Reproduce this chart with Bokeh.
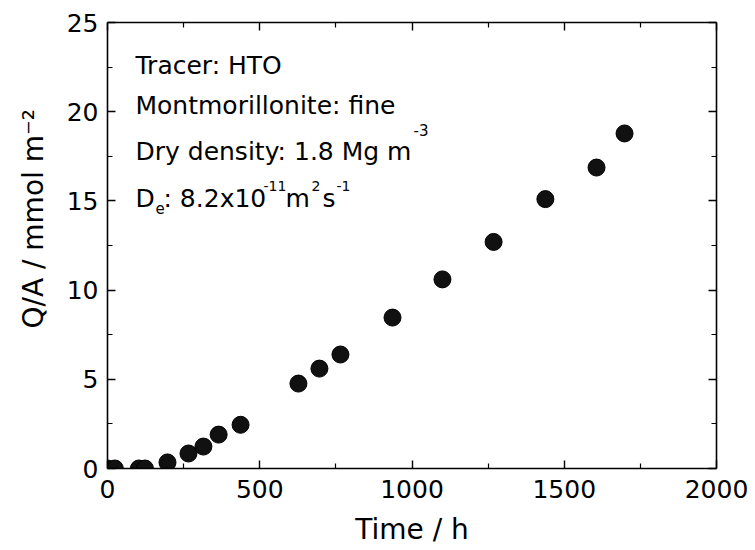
import math
from bokeh.plotting import figure
from bokeh.models import LinearAxis, FixedTicker, Label, Range1d, ColumnDataSource, CustomJSTickFormatter
from bokeh.embed import file_html
from bokeh.resources import INLINE

# ---- data ----
time_h = [0, 24, 103, 123, 197, 266, 315, 365, 437, 627, 696, 765, 936, 1100, 1268, 1438, 1606, 1698]
qa_mmol = [0.0, 0.0, 0.0, 0.0, 0.34, 0.84, 1.23, 1.9, 2.45, 4.76, 5.6, 6.39, 8.46, 10.6, 12.7, 15.1, 16.87, 18.78]

x_ticks = [0, 500, 1000, 1500, 2000]
x_minor = [250, 750, 1250, 1750]
y_ticks = [0, 5, 10, 15, 20, 25]
y_minor = [2.5, 7.5, 12.5, 17.5, 22.5]

FONT = "DejaVu Sans"
NB = "\u00a0"

p = figure(width=755, height=550, output_backend="svg", toolbar_location=None,
           x_range=Range1d(0, 2000), y_range=Range1d(0, 25),
           min_border_left=107, min_border_right=39, min_border_top=22, min_border_bottom=82)
p.outline_line_color = None
p.xgrid.visible = False
p.ygrid.visible = False
p.background_fill_color = "white"
p.border_fill_color = "white"

src = ColumnDataSource(dict(t=time_h, q=qa_mmol))
p.scatter("t", "q", source=src, size=17, marker="circle",
          fill_color="#111111", line_color="#000000", line_width=1)

def style_axis(ax, ticks, minor, show_labels):
    ax.ticker = FixedTicker(ticks=ticks, minor_ticks=minor)
    ax.axis_line_width = 1.6
    ax.axis_line_color = "black"
    ax.major_tick_in = 8
    ax.major_tick_out = 0
    ax.minor_tick_in = 5
    ax.minor_tick_out = 0
    ax.major_tick_line_width = 1.4
    ax.minor_tick_line_width = 1.2
    ax.major_tick_line_color = "black"
    ax.minor_tick_line_color = "black"
    if show_labels:
        ax.major_label_text_font = FONT
        ax.major_label_text_font_size = "25px"
        ax.major_label_text_color = "black"
    else:
        ax.formatter = CustomJSTickFormatter(code="return '';")
        ax.major_label_standoff = 0

xa = p.xaxis[0]
style_axis(xa, x_ticks, x_minor, True)
xa.major_label_standoff = 11
xa.axis_label = "Time / h"
xa.axis_label_text_font = FONT
xa.axis_label_text_font_size = "28px"
xa.axis_label_text_font_style = "normal"
xa.axis_label_text_color = "black"
xa.axis_label_standoff = 12

ya = p.yaxis[0]
style_axis(ya, y_ticks, y_minor, True)
ya.major_label_standoff = 9
ya.axis_label = NB * 6 + "Q/A / mmol m\u207b\u00b2"
ya.axis_label_text_font = FONT
ya.axis_label_text_font_size = "28px"
ya.axis_label_text_font_style = "normal"
ya.axis_label_text_color = "black"
ya.axis_label_standoff = 14

top = LinearAxis()
style_axis(top, x_ticks, x_minor, False)
p.add_layout(top, "above")
right = LinearAxis()
style_axis(right, y_ticks, y_minor, False)
p.add_layout(right, "right")

# ---- text helpers (screen units: from frame left / frame bottom) ----
FL, FB = 107, 468
DY = 7  # rendering offset correction

def txt(text, cx, cy, size):
    p.add_layout(Label(x=cx - FL, y=FB - (cy - DY), x_units="screen", y_units="screen",
                       text=text, text_font=FONT, text_font_size=f"{size}px",
                       text_color="black", text_align="left", text_baseline="alphabetic"))

# annotation block
txt("Tracer: HTO", 135, 72, 25)
txt("Montmorillonite: fine", 135, 112, 25)
txt("Dry density: 1.8 Mg m", 135, 158, 25)
txt("-3", 413, 136, 15)
txt("D", 135, 205, 25)
txt("e", 155, 214, 15)
txt(": 8.2x10", 163, 205, 25)
txt("-11", 263, 192, 14)
txt("m", 285, 205, 25)
txt("2", 311, 192, 14)
txt("s", 322, 205, 25)
txt("-1", 336, 192, 14)

open("out.html", "w").write(file_html(p, INLINE))
